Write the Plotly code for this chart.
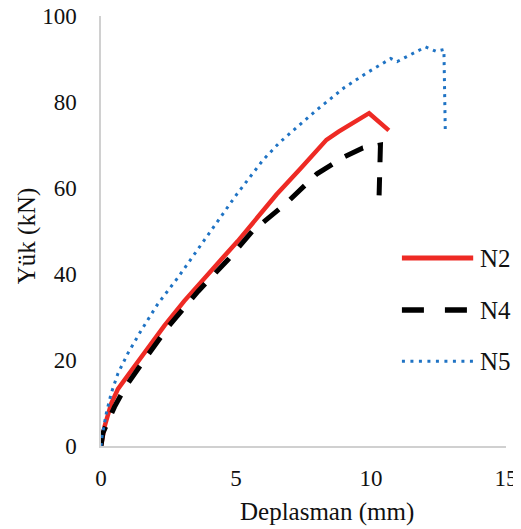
import plotly.graph_objects as go

# Data (Deplasman mm, Yük kN)
n2_x = [0, 0.13, 0.38, 0.63, 1.12, 1.73, 2.35, 3.08, 3.82, 4.56, 5.06, 5.87, 6.5, 7.4, 7.96, 8.35, 8.8, 9.93, 10.66]
n2_y = [0, 4.5, 9.9, 13.3, 17.5, 22.9, 28.0, 33.7, 39.1, 44.1, 47.6, 53.8, 58.5, 64.6, 68.6, 71.2, 73.1, 77.4, 73.4]

n4_x = [0, 0.07, 0.5, 0.87, 1.5, 2.5, 3.6, 4.7, 5.6, 6.85, 8.0, 9.0, 9.7, 10.35, 10.3]
n4_y = [0, 3.0, 9.1, 13.4, 19.1, 27.8, 36.0, 43.3, 49.9, 56.4, 63.3, 67.2, 69.3, 70.0, 58.3]

n5_x = [0, 0.04, 0.2, 0.38, 0.63, 1.0, 1.49, 2.1, 2.84, 3.7, 5.0, 6.0, 6.6, 8.0, 9.0, 9.8, 10.73, 10.97, 12.02, 12.4, 12.7, 12.75]
n5_y = [0, 2.3, 7.7, 12.3, 16.9, 21.6, 26.9, 33.0, 39.1, 46.8, 58.3, 66.5, 70.5, 78.2, 83.3, 86.6, 90.1, 89.4, 92.8, 91.8, 92.2, 73.7]

x_ticks = [0, 5, 10, 15]
y_ticks = [0, 20, 40, 60, 80, 100]

series_names = ["N2", "N4", "N5"]
RED = "#ee2a24"
BLACK = "#000000"
BLUE = "#1f73c4"
FONT = "Liberation Serif"

fig = go.Figure()
fig.add_trace(go.Scatter(x=n2_x, y=n2_y, mode="lines", name="N2",
                         line=dict(color=RED, width=4.5)))
fig.add_trace(go.Scatter(x=n4_x, y=n4_y, mode="lines", name="N4",
                         line=dict(color=BLACK, width=5, dash="20px,15px")))
fig.add_trace(go.Scatter(x=n5_x, y=n5_y, mode="lines", name="N5",
                         line=dict(color=BLUE, width=3, dash="3px,5px")))

# manual legend (long sample lines as in the reference)
legend_styles = [
    (0.437, dict(color=RED, width=5)),
    (0.316, dict(color=BLACK, width=5.5, dash="22px,21px")),
    (0.197, dict(color=BLUE, width=3, dash="3px,5.5px")),
]
annotations = []
shapes = []
for name, (yy, ln) in zip(series_names, legend_styles):
    shapes.append(dict(type="line", xref="paper", yref="paper",
                       x0=0.743, x1=0.919, y0=yy, y1=yy, line=ln))
    annotations.append(dict(text=name, xref="paper", yref="paper", x=0.931, y=yy,
                            xanchor="left", yanchor="middle", showarrow=False,
                            font=dict(family=FONT, size=25, color="#111")))

annotations.append(dict(text="Deplasman (mm)", xref="paper", yref="paper",
                        x=0.558, y=-0.153, xanchor="center", yanchor="middle",
                        showarrow=False, font=dict(family=FONT, size=25, color="#111")))
annotations.append(dict(text="Yük (kN)", xref="paper", yref="paper",
                        x=-0.183, y=0.49, xanchor="center", yanchor="middle",
                        textangle=-90, showarrow=False,
                        font=dict(family=FONT, size=25, color="#111")))

fig.update_layout(
    width=521, height=529,
    margin=dict(l=93, r=23, t=8, b=91, autoexpand=False),
    paper_bgcolor="white", plot_bgcolor="white",
    showlegend=False,
    shapes=shapes, annotations=annotations,
    font=dict(family=FONT, size=23, color="#111"),
)
fig.update_xaxes(range=[0, 15], tickvals=x_ticks, showgrid=False, zeroline=False,
                 showline=True, linecolor="#d0d0d0", linewidth=1.5, automargin=False,
                 ticks="outside", ticklen=11, tickcolor="rgba(0,0,0,0)",
                 ticklabeloverflow="allow",
                 tickfont=dict(family=FONT, size=23, color="#111"))
fig.update_yaxes(range=[0, 100], tickvals=y_ticks, showgrid=False, zeroline=False,
                 showline=True, linecolor="#d0d0d0", linewidth=1.5, automargin=False,
                 ticks="outside", ticklen=18, tickcolor="rgba(0,0,0,0)",
                 ticklabeloverflow="allow",
                 tickfont=dict(family=FONT, size=23, color="#111"))

fig.write_html("out.html")
